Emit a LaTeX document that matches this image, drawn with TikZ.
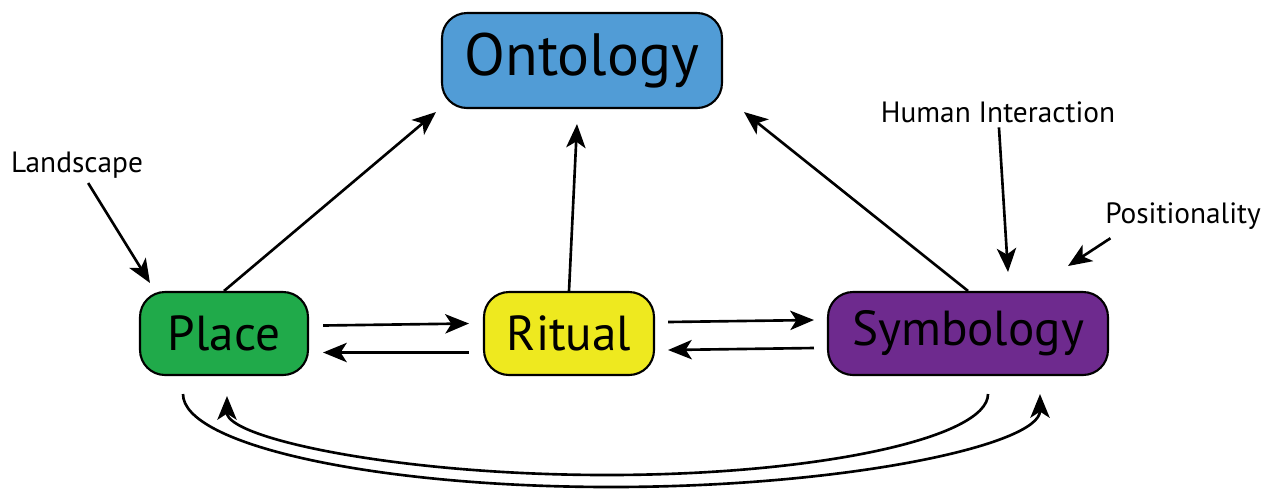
\documentclass[tikz,border=0pt]{standalone}
\usepackage{fontspec}
\setmainfont{PT Sans}
\usetikzlibrary{arrows.meta}
\definecolor{ontoblue}{HTML}{519CD6}
\definecolor{placegreen}{HTML}{20AA4A}
\definecolor{ritualyellow}{HTML}{EEE91F}
\definecolor{symbpurple}{HTML}{6E2A8E}
\tikzset{
  box/.style={draw, line width=1.2pt, rounded corners=0.5cm, minimum height=1.66cm, align=center},
  lbl/.style={font=\fontsize{16.7}{16.7}\selectfont, inner sep=2pt},
}
\begin{document}
\begin{tikzpicture}[x=0.02cm, y=-0.02cm, >={Stealth[length=13.5pt,width=11pt,inset=3.5pt]}, line width=1.5pt]
\useasboundingbox (0,0) rectangle (1270,491);

\node[box, fill=ontoblue, minimum width=5.6cm, minimum height=1.9cm, font=\fontsize{34}{34}\selectfont] (ontology) at (582,60.5) {Ontology};
\node[box, fill=placegreen, minimum width=3.36cm, font=\fontsize{28}{28}\selectfont] (place) at (224,333.5) {Place};
\node[box, fill=ritualyellow, minimum width=3.4cm, font=\fontsize{28}{28}\selectfont] (ritual) at (569,333.5) {Ritual};
\node[box, fill=symbpurple, minimum width=5.6cm, font=\fontsize{28}{28}\selectfont] (symbology) at (968,333.5) {Symbology};

\node[lbl] (landscape) at (77,165) {Landscape};
\node[lbl] (human) at (998,112) {Human Interaction};
\node[lbl] (posit) at (1183,216) {Positionality};

% outside influences
\coordinate (lsend) at (150,283);
\coordinate (huend) at (1008,272);
\coordinate (poend) at (1068,266);
\draw[->] (landscape) -- (lsend);
\draw[->] (human) -- (huend);
\draw[->] ([shift={(10,4)}]posit.south west) -- (poend);

% up to ontology
\draw[->] (place.north) -- ([shift={(-5,3)}]ontology.south west);
\draw[->] (ritual.north) -- ([shift={(-5,15)}]ontology.south);
\draw[->] (symbology.north) -- ([shift={(21,3)}]ontology.south east);

% between the boxes
\draw[->] ([shift={(14,-8)}]place.east) -- ([shift={(-14,-10)}]ritual.west);
\draw[->] ([shift={(-14,19)}]ritual.west) -- ([shift={(14,19)}]place.east);
\draw[->] ([shift={(13,-11.5)}]ritual.east) -- ([shift={(-13,-13.5)}]symbology.west);
\draw[->] ([shift={(-13,14.5)}]symbology.west) -- ([shift={(13,16.5)}]ritual.east);

% round the bottom
\draw[->] ([shift={(-41,18)}]place.south) .. controls (183,445) and (376,487) .. (611,487)
  .. controls (846,487) and (1040,445) .. ([shift={(72,18)}]symbology.south);
\draw[->] ([shift={(20,18)}]symbology.south) .. controls (988,438) and (817,475) .. (607,475)
  .. controls (397,475) and (227,438) .. ([shift={(3,20)}]place.south);
\end{tikzpicture}
\end{document}
